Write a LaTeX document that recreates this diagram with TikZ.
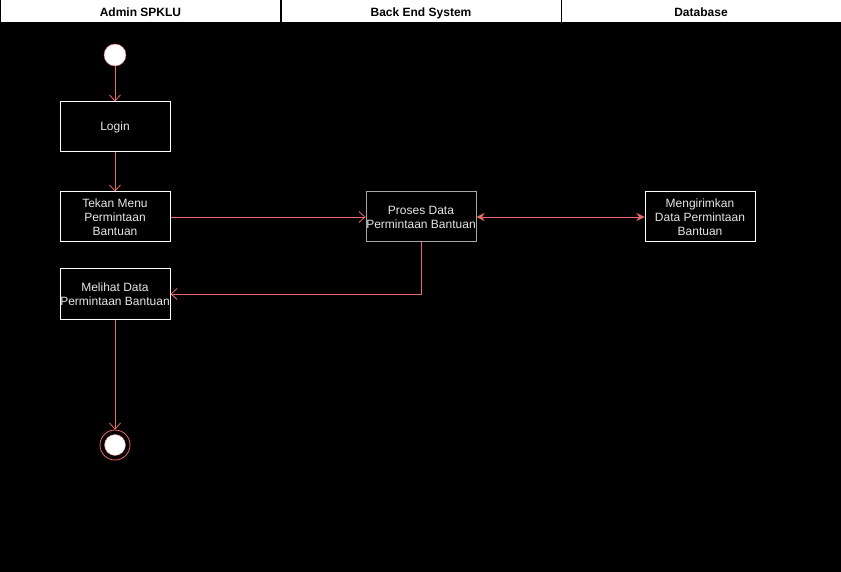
\documentclass[tikz,border=0pt]{standalone}
\usepackage{fontspec}
\setmainfont{Liberation Sans}
\usetikzlibrary{arrows.meta}
\definecolor{salmon}{HTML}{EA6B66}
\definecolor{boxtext}{HTML}{E6E6E6}
\begin{document}
\begin{tikzpicture}[x=1pt,y=-1pt,
  lane/.style={draw=black,fill=white,line width=1pt,minimum width=280pt,minimum height=23pt,inner sep=0pt,text height=12pt,text depth=2.4pt,font=\fontsize{12}{14}\selectfont\bfseries},
  act/.style={draw=white,line width=1pt,minimum width=110pt,minimum height=50pt,inner sep=0pt,align=center,text=boxtext,font=\fontsize{12}{14}\selectfont},
  flow/.style={draw=salmon,line width=0.8pt,-{Straight Barb[length=6pt,width=11pt]}},
  both/.style={draw=salmon,line width=0.8pt,{Stealth[length=8pt,width=8pt]}-{Stealth[length=8pt,width=8pt]}}]
\fill[black] (0,0) rectangle (841,572);
\useasboundingbox (0,0) rectangle (841,572);
% swimlane headers
\node[lane] (admin) at (140.5,11.5) {Admin SPKLU};
\node[lane] (backend) at (421,11.5) {Back End System};
\node[lane] (db) at (701,11.5) {Database};
% start and end
\node[circle,draw=salmon,fill=white,minimum size=22pt,inner sep=0pt] (start) at (115,55) {};
\node[circle,draw=salmon,line width=0.8pt,minimum size=30pt,inner sep=0pt] (stop) at (115,445) {};
\fill[white,draw=salmon] (stop.center) circle (10.5pt);
% activities
\node[act] (login) at (115,127) {Login};
\node[act] (menu) at (115,217) {Tekan Menu\\Permintaan\\Bantuan};
\node[act,draw=gray!70] (proses) at (421,217) {Proses Data\\Permintaan Bantuan};
\node[act] (kirim) at (700,217) {Mengirimkan\\Data Permintaan\\Bantuan};
\node[act] (lihat) at (115,294) {Melihat Data\\Permintaan Bantuan};
% connectors
\draw[flow] (start) -- (login);
\draw[flow] (login) -- (menu);
\draw[flow] (menu) -- (proses);
\draw[both] (proses) -- (kirim);
\draw[flow] (proses.south) |- (lihat.east);
\draw[flow] (lihat) -- (stop);
\end{tikzpicture}
\end{document}
